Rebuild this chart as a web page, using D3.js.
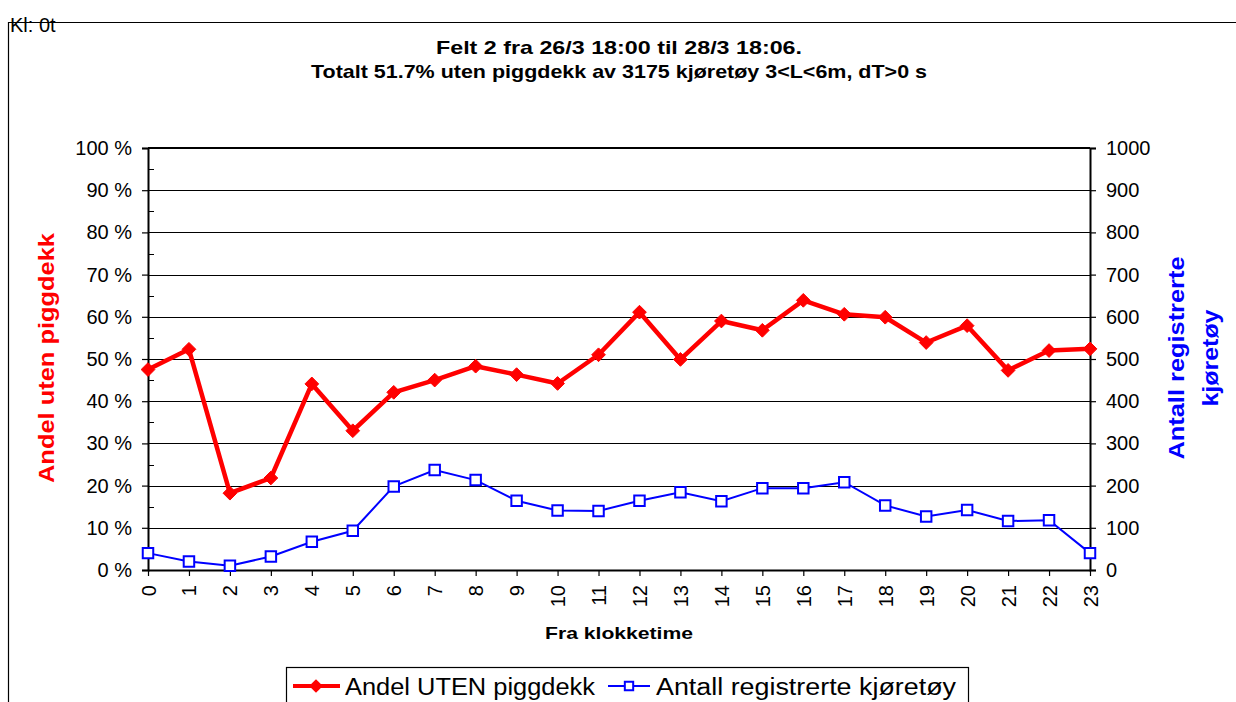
<!DOCTYPE html>
<html>
<head>
<meta charset="utf-8">
<script src="https://cdn.jsdelivr.net/npm/d3@7"></script>
<style>
    body { margin: 0; background: #fff; }
    text { font-family: "Liberation Sans", Arial, sans-serif; }
</style>
</head>
<body>
<svg id="chart" width="1236" height="702"></svg>
<script>
// Data
const hours = d3.range(0, 24);
const shareWithout = [47.5, 52.3, 18.2, 21.8, 44.1, 33.0, 42.1, 45.0, 48.3, 46.3, 44.2, 51.0,
    61.1, 49.9, 59.0, 56.8, 63.9, 60.6, 59.9, 53.9, 57.9, 47.3, 52.0, 52.4];
const vehicleCounts = [40, 20, 10, 32, 67, 93, 198, 237, 213, 164, 141, 140,
    164, 184, 163, 194, 194, 208, 153, 127, 142, 116, 118, 40];
const leftTicks = d3.range(0, 101, 10);
const rightTicks = d3.range(0, 1001, 100);

const titleLines = [
    "Felt 2 fra 26/3 18:00 til 28/3 18:06.",
    "Totalt 51.7% uten piggdekk av 3175 kjøretøy 3<L<6m, dT>0 s"
];
const seriesNames = ["Andel UTEN piggdekk", "Antall registrerte kjøretøy"];

const svg = d3.select("#chart");
const plot = {left: 148, right: 1090, top: 148, bottom: 570};

// Scales
const x = d3.scalePoint().domain(hours).range([plot.left, plot.right]);
const yLeft = d3.scaleLinear().domain([0, 100]).range([plot.bottom, plot.top]);
const yRight = d3.scaleLinear().domain([0, 1000]).range([plot.bottom, plot.top]);

// Outer frame and corner label
svg.append("path")
    .attr("d", "M8.5,702V22.5H1236")
    .attr("fill", "none")
    .attr("stroke", "#000")
    .attr("stroke-width", 1.2);

svg.append("text")
    .attr("x", 10).attr("y", 32)
    .style("font-size", "20px")
    .text("Kl: 0t");

// Title
svg.selectAll(".title")
    .data(titleLines)
    .enter().append("text")
    .attr("class", "title")
    .attr("x", 619)
    .attr("y", (d, i) => 54 + i * 24)
    .attr("text-anchor", "middle")
    .attr("textLength", (d, i) => i === 0 ? 366 : 616)
    .attr("lengthAdjust", "spacingAndGlyphs")
    .style("font-size", "19px")
    .style("font-weight", "bold")
    .text(d => d);

// Gridlines
svg.append("g")
    .selectAll("line")
    .data(leftTicks.slice(1))
    .enter().append("line")
    .attr("x1", plot.left).attr("x2", plot.right)
    .attr("y1", d => Math.round(yLeft(d)) + 0.5)
    .attr("y2", d => Math.round(yLeft(d)) + 0.5)
    .attr("stroke", "#000")
    .attr("stroke-width", 1.2);

// Left axis
const leftAxis = svg.append("g")
    .attr("transform", `translate(${plot.left},0)`)
    .call(d3.axisLeft(yLeft).tickValues(leftTicks).tickSize(6).tickPadding(10)
        .tickFormat(d => d + " %"));

// minor ticks inside the plot
svg.append("g")
    .selectAll("line")
    .data(d3.range(5, 100, 10))
    .enter().append("line")
    .attr("x1", plot.left).attr("x2", plot.left + 6)
    .attr("y1", d => Math.round(yLeft(d)) + 0.5)
    .attr("y2", d => Math.round(yLeft(d)) + 0.5)
    .attr("stroke", "#000");

// Right axis
const rightAxis = svg.append("g")
    .attr("transform", `translate(${plot.right},0)`)
    .call(d3.axisRight(yRight).tickValues(rightTicks).tickSize(6).tickPadding(10)
        .tickFormat(d3.format("d")));

// Bottom axis
const bottomAxis = svg.append("g")
    .attr("transform", `translate(0,${plot.bottom})`)
    .call(d3.axisBottom(x).tickSize(6).tickSizeOuter(0));

bottomAxis.selectAll("text")
    .attr("transform", "rotate(-90)")
    .attr("x", -15)
    .attr("y", 0)
    .attr("dy", "0.35em")
    .style("text-anchor", "end");

[leftAxis, rightAxis, bottomAxis].forEach(g => {
    g.select(".domain").attr("stroke", "#000").attr("stroke-width", 2);
    g.selectAll(".tick line").attr("stroke", "#000").attr("stroke-width", 1.2);
    g.selectAll("text")
        .style("font-family", "'Liberation Sans', Arial, sans-serif")
        .style("font-size", "20px")
        .attr("fill", "#000");
});

// Top border of the plot area
svg.append("line")
    .attr("x1", plot.left).attr("x2", plot.right)
    .attr("y1", plot.top).attr("y2", plot.top)
    .attr("stroke", "#000")
    .attr("stroke-width", 2);

// Axis titles
svg.append("text")
    .attr("transform", `translate(54,358) rotate(-90)`)
    .attr("text-anchor", "middle")
    .attr("textLength", 250)
    .attr("lengthAdjust", "spacingAndGlyphs")
    .attr("fill", "#ff0000")
    .style("font-size", "22px")
    .style("font-weight", "bold")
    .text("Andel uten piggdekk");

svg.selectAll(".rtitle")
    .data(["Antall registrerte", "kjøretøy"])
    .enter().append("text")
    .attr("class", "rtitle")
    .attr("transform", (d, i) => `translate(${1184 + i * 34},358) rotate(-90)`)
    .attr("text-anchor", "middle")
    .attr("textLength", (d, i) => i === 0 ? 203 : 97)
    .attr("lengthAdjust", "spacingAndGlyphs")
    .attr("fill", "#0000ff")
    .style("font-size", "22px")
    .style("font-weight", "bold")
    .text(d => d);

svg.append("text")
    .attr("x", 619).attr("y", 639)
    .attr("text-anchor", "middle")
    .attr("textLength", 148)
    .attr("lengthAdjust", "spacingAndGlyphs")
    .style("font-size", "17px")
    .style("font-weight", "bold")
    .text("Fra klokketime");

// Series: vehicle counts (right axis)
const countLine = d3.line()
    .x((d, i) => x(hours[i]))
    .y(d => yRight(d));

svg.append("path")
    .datum(vehicleCounts)
    .attr("d", countLine)
    .attr("fill", "none")
    .attr("stroke", "#0000ff")
    .attr("stroke-width", 2);

const squareSym = d3.symbol().type(d3.symbolSquare).size(110);

svg.append("g")
    .selectAll("path")
    .data(vehicleCounts)
    .enter().append("path")
    .attr("transform", (d, i) => `translate(${x(hours[i])},${yRight(d)})`)
    .attr("d", squareSym)
    .attr("fill", "#fff")
    .attr("stroke", "#0000ff")
    .attr("stroke-width", 2);

// Series: share without studded tyres (left axis)
const shareLine = d3.line()
    .x((d, i) => x(hours[i]))
    .y(d => yLeft(d));

svg.append("path")
    .datum(shareWithout)
    .attr("d", shareLine)
    .attr("fill", "none")
    .attr("stroke", "#ff0000")
    .attr("stroke-width", 4.5)
    .attr("stroke-linejoin", "round");

const diamondSym = d3.symbol().type(d3.symbolDiamond2).size(120);

svg.append("g")
    .selectAll("path")
    .data(shareWithout)
    .enter().append("path")
    .attr("transform", (d, i) => `translate(${x(hours[i])},${yLeft(d)})`)
    .attr("d", diamondSym)
    .attr("fill", "#ff0000")
    .attr("stroke", "#ff0000")
    .attr("stroke-width", 1);

// Legend
const legend = svg.append("g");

legend.append("rect")
    .attr("x", 286.5).attr("y", 667.5)
    .attr("width", 682).attr("height", 60)
    .attr("fill", "#fff")
    .attr("stroke", "#000")
    .attr("stroke-width", 1.2);

legend.append("line")
    .attr("x1", 293).attr("x2", 340)
    .attr("y1", 686).attr("y2", 686)
    .attr("stroke", "#ff0000")
    .attr("stroke-width", 4);

legend.append("path")
    .attr("transform", "translate(316,686)")
    .attr("d", diamondSym)
    .attr("fill", "#ff0000");

legend.append("line")
    .attr("x1", 608).attr("x2", 650)
    .attr("y1", 686).attr("y2", 686)
    .attr("stroke", "#0000ff")
    .attr("stroke-width", 2);

legend.append("path")
    .attr("transform", "translate(629,686)")
    .attr("d", d3.symbol().type(d3.symbolSquare).size(70))
    .attr("fill", "#fff")
    .attr("stroke", "#0000ff")
    .attr("stroke-width", 2);

legend.selectAll(".ltext")
    .data(seriesNames)
    .enter().append("text")
    .attr("class", "ltext")
    .attr("x", (d, i) => i === 0 ? 345 : 656)
    .attr("y", 695)
    .attr("textLength", (d, i) => i === 0 ? 250 : 300)
    .attr("lengthAdjust", "spacingAndGlyphs")
    .style("font-size", "23px")
    .text(d => d);
</script>
</body>
</html>
